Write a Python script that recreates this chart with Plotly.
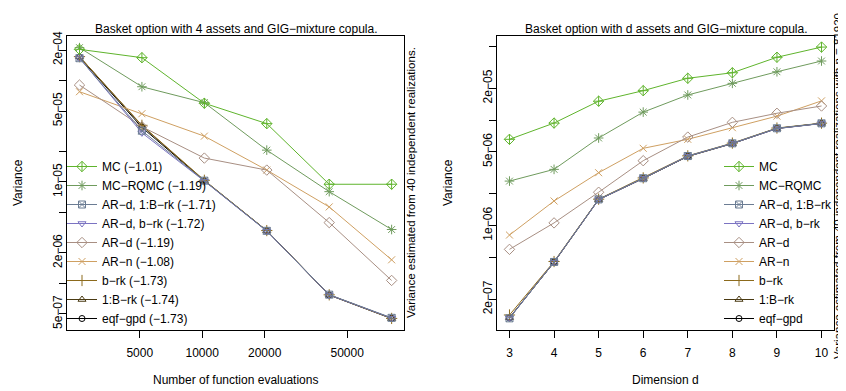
import plotly.graph_objects as go

# page body has an 8px margin: figure is sized to fit the 846x391 window
OFF = 8
W, H = 846 - OFF, 391 - OFF

# ---------------- data ----------------
n_evals = [2560, 5120, 10240, 20480, 40960, 81920]
dims = [3, 4, 5, 6, 7, 8, 9, 10]

methods = ["MC", "MC\u2212RQMC", "AR\u2212d, 1:B\u2212rk", "AR\u2212d, b\u2212rk",
           "AR\u2212d", "AR\u2212n", "b\u2212rk", "1:B\u2212rk", "eqf\u2212gpd"]
slopes = ["\u22121.01", "\u22121.19", "\u22121.71", "\u22121.72", "\u22121.19",
          "\u22121.08", "\u22121.73", "\u22121.74", "\u22121.73"]

# left panel: variance vs number of function evaluations (d = 4)
var_n_MC = [2.03e-4, 1.68e-4, 5.97e-5, 3.76e-5, 9.5e-6, 9.5e-6]
var_n_MCRQMC = [2.11e-4, 8.69e-5, 6.05e-5, 2.06e-5, 8.03e-6, 3.40e-6]
var_n_ARd_1B = [1.66e-4, 3.20e-5, 1.03e-5, 3.30e-6, 7.75e-7, 4.58e-7]
var_n_ARd_b = [1.67e-4, 3.05e-5, 1.02e-5, 3.28e-6, 7.70e-7, 4.55e-7]
var_n_ARd = [9.03e-5, 3.51e-5, 1.72e-5, 1.31e-5, 3.98e-6, 1.07e-6]
var_n_ARn = [7.76e-5, 4.71e-5, 2.83e-5, 1.31e-5, 5.68e-6, 1.71e-6]
var_n_brk = [1.72e-4, 3.62e-5, 1.04e-5, 3.32e-6, 7.72e-7, 4.52e-7]
var_n_1Brk = [1.72e-4, 3.58e-5, 1.03e-5, 3.30e-6, 7.68e-7, 4.50e-7]
var_n_eqf = [1.70e-4, 3.45e-5, 1.03e-5, 3.31e-6, 7.70e-7, 4.53e-7]

# right panel: variance vs dimension (n = 81920)
var_d_MC = [6.57e-6, 9.37e-6, 1.51e-5, 1.90e-5, 2.49e-5, 2.81e-5, 3.94e-5, 4.92e-5]
var_d_MCRQMC = [2.64e-6, 3.41e-6, 6.76e-6, 1.19e-5, 1.73e-5, 2.23e-5, 2.87e-5, 3.63e-5]
var_d_ARd_1B = [1.32e-7, 4.52e-7, 1.77e-6, 2.81e-6, 4.56e-6, 6.02e-6, 8.36e-6, 9.31e-6]
var_d_ARd_b = [1.33e-7, 4.50e-7, 1.76e-6, 2.80e-6, 4.55e-6, 6.00e-6, 8.30e-6, 9.28e-6]
var_d_ARd = [5.95e-7, 1.06e-6, 2.07e-6, 4.12e-6, 6.90e-6, 9.52e-6, 1.16e-5, 1.36e-5]
var_d_ARn = [8.13e-7, 1.71e-6, 3.17e-6, 5.40e-6, 6.57e-6, 8.47e-6, 1.09e-5, 1.52e-5]
var_d_brk = [1.42e-7, 4.56e-7, 1.78e-6, 2.83e-6, 4.58e-6, 6.05e-6, 8.40e-6, 9.35e-6]
var_d_1Brk = [1.34e-7, 4.48e-7, 1.76e-6, 2.79e-6, 4.52e-6, 5.98e-6, 8.32e-6, 9.30e-6]
var_d_eqf = [1.33e-7, 4.50e-7, 1.77e-6, 2.80e-6, 4.54e-6, 6.00e-6, 8.34e-6, 9.30e-6]

left_series = [var_n_MC, var_n_MCRQMC, var_n_ARd_1B, var_n_ARd_b, var_n_ARd,
               var_n_ARn, var_n_brk, var_n_1Brk, var_n_eqf]
right_series = [var_d_MC, var_d_MCRQMC, var_d_ARd_1B, var_d_ARd_b, var_d_ARd,
                var_d_ARn, var_d_brk, var_d_1Brk, var_d_eqf]

left_yticks = [5e-7, 1e-6, 2e-6, 5e-6, 1e-5, 2e-5, 5e-5, 1e-4, 2e-4]
left_yticklabels = ["5e\u221207", "", "2e\u221206", "", "1e\u221205", "", "5e\u221205", "", "2e\u221204"]
right_yticks = [2e-7, 5e-7, 1e-6, 2e-6, 5e-6, 1e-5, 2e-5, 5e-5]
right_yticklabels = ["2e\u221207", "", "1e\u221206", "", "5e\u221206", "", "2e\u221205", ""]
left_xticks = [5000, 10000, 20000, 50000]

# ---------------- styles ----------------
colors = ["#5fb42c", "#6f9b5d", "#6b7c93", "#7b73c2", "#a88f83",
          "#cfa062", "#8c6a1c", "#4a3a12", "#000000"]
symbols = ["diamond-cross-open", "asterisk-open", "square-x-open", "triangle-down-open",
           "diamond-open", "x-thin-open", "cross-thin-open", "triangle-up-open", "circle-open"]
msizes = [8, 8, 7, 7, 8, 7, 8, 7, 6]

FONT = "Liberation Sans, Arial, Helvetica, sans-serif"

fig = go.Figure()

# draw in reverse order (first legend entry ends on top), keep legend order by rank
for i in reversed(range(len(methods))):
    fig.add_trace(go.Scatter(
        x=n_evals, y=left_series[i], mode="lines+markers",
        name=f"{methods[i]} ({slopes[i]})", legend="legend", legendrank=i + 1,
        line=dict(color=colors[i], width=1),
        marker=dict(symbol=symbols[i], size=msizes[i], color=colors[i],
                    line=dict(color=colors[i], width=1)),
        xaxis="x", yaxis="y"))

for i in reversed(range(len(methods))):
    fig.add_trace(go.Scatter(
        x=dims, y=right_series[i], mode="lines+markers",
        name=methods[i], legend="legend2", legendrank=i + 1,
        line=dict(color=colors[i], width=1),
        marker=dict(symbol=symbols[i], size=msizes[i], color=colors[i],
                    line=dict(color=colors[i], width=1)),
        xaxis="x2", yaxis="y2"))

# window-pixel -> paper helpers
def px_x(p):
    return (p - OFF) / W

def px_y(p):
    return 1 - (p - OFF) / H

box_top, box_bot = 36, 330
axis_common = dict(showline=True, linecolor="black", linewidth=1, mirror=True,
                   ticks="outside", ticklen=7, tickcolor="black", tickwidth=1,
                   showgrid=False, zeroline=False,
                   tickfont=dict(family=FONT, size=12, color="black"))

fig.update_layout(
    width=W, height=H,
    margin=dict(l=0, r=0, t=0, b=0, autoexpand=False),
    paper_bgcolor="white", plot_bgcolor="white",
    font=dict(family=FONT, size=12, color="black"),
    xaxis=dict(domain=[px_x(67), px_x(404)], type="log", range=[3.348, 4.973],
               tickvals=left_xticks, ticktext=[str(v) for v in left_xticks],
               ticklabelstandoff=5,
               anchor="y", automargin=False, **axis_common),
    yaxis=dict(domain=[px_y(box_bot), px_y(box_top)], type="log", range=[-6.459, -3.561],
               tickvals=left_yticks, ticktext=left_yticklabels, tickangle=-90,
               ticklabelstandoff=-8,
               anchor="x", automargin=False, **axis_common),
    xaxis2=dict(domain=[px_x(497), px_x(834)], range=[2.72, 10.28],
                tickvals=dims, ticktext=[str(d) for d in dims],
                ticklabelstandoff=5,
                anchor="y2", automargin=False, **axis_common),
    yaxis2=dict(domain=[px_y(box_bot), px_y(box_top)], type="log", range=[-6.990, -4.203],
                tickvals=right_yticks, ticktext=right_yticklabels, tickangle=-90,
                ticklabelstandoff=-8,
                anchor="x2", automargin=False, **axis_common),
    legend=dict(x=px_x(62), y=px_y(333), xanchor="left", yanchor="bottom",
                bgcolor="rgba(0,0,0,0)", font=dict(family=FONT, size=12),
                itemwidth=30, tracegroupgap=0),
    legend2=dict(x=px_x(719), y=px_y(333), xanchor="left", yanchor="bottom",
                 bgcolor="rgba(0,0,0,0)", font=dict(family=FONT, size=12),
                 itemwidth=30, tracegroupgap=0),
    showlegend=True,
)

def ann(text, x, y, angle=0, size=12, xanchor="center"):
    fig.add_annotation(text=text, x=px_x(x), y=px_y(y), xref="paper", yref="paper",
                       showarrow=False, textangle=angle, xanchor=xanchor, yanchor="middle",
                       font=dict(family=FONT, size=size, color="black"))

ann("Basket option with 4 assets and GIG\u2212mixture copula.", 235.5, 29, size=12)
ann("Basket option with d assets and GIG\u2212mixture copula.", 665.5, 29, size=12)
ann("Number of function evaluations", 235.5, 380)
ann("Dimension d", 665.5, 380)
ann("Variance", 18, 183, angle=-90)
ann("Variance", 448, 183, angle=-90)
ann("Variance estimated from 40 independent realizations.", 411, 183, angle=-90, size=11.5)
ann("Variance estimated from 40 independent realizations with n = 81920.", 846, 185,
    angle=-90, size=11.5, xanchor="right")

fig.write_html("out.html", config={"displayModeBar": False})
